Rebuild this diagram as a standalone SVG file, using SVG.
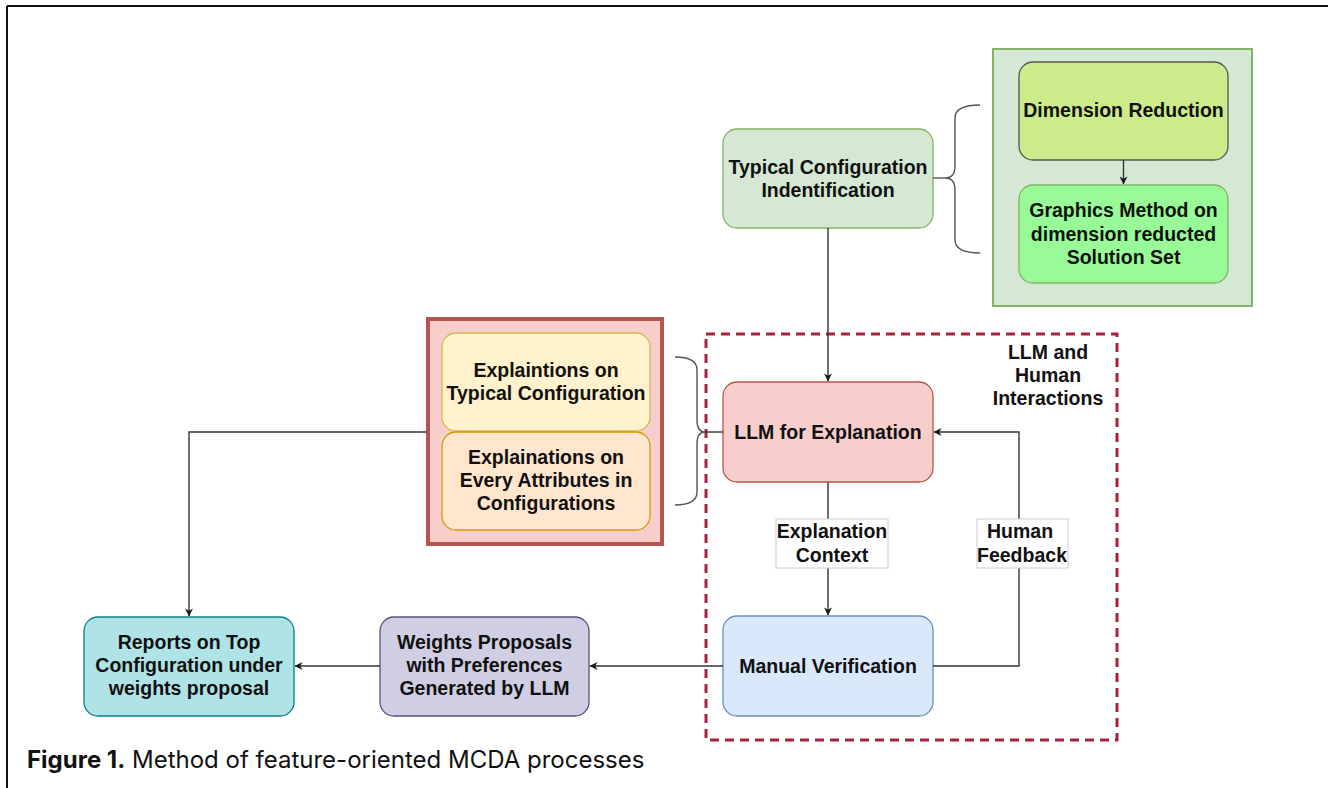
<svg xmlns="http://www.w3.org/2000/svg" width="1328" height="788" viewBox="0 0 1328 788">
<defs>
<marker id="arr" viewBox="0 0 10 10" refX="9.5" refY="5" markerWidth="8" markerHeight="8" markerUnits="userSpaceOnUse" orient="auto">
<path d="M0,0 L10,5 L0,10 L3,5 Z" fill="#1a1a1a"/>
</marker>
</defs>
<style>
.t{font-family:"Liberation Sans",Arial,sans-serif;font-weight:bold;font-size:19.5px;fill:#111;text-anchor:middle;dominant-baseline:central}
.c{fill:none;stroke:#333;stroke-width:1.4}
.br{fill:none;stroke:#555;stroke-width:1.4}
.lbl{fill:#fff;stroke:#ccc;stroke-width:1}
</style>
<rect x="0" y="0" width="1328" height="788" fill="#fff"/>
<g id="frame">
<line x1="7" y1="6" x2="1328" y2="6" stroke="#111" stroke-width="2"/>
<line x1="7" y1="6" x2="7" y2="788" stroke="#111" stroke-width="2"/>
</g>
<g id="green-container">
<rect x="993" y="49" width="259" height="257" fill="#d5e8d4" stroke="#82b366" stroke-width="2"/>
</g>
<g id="dim-reduction">
<rect x="1019" y="62" width="209" height="98" rx="14" fill="#cdeb8b" stroke="#555" stroke-width="1.3"/>
<text class="t" x="1123.5" y="110">Dimension Reduction</text>
</g>
<g id="graphics-method">
<rect x="1019" y="185" width="209" height="98" rx="14" fill="#99fb97" stroke="#82b366" stroke-width="1.3"/>
<text class="t" x="1123.5" y="210">Graphics Method on</text>
<text class="t" x="1123.5" y="233.5">dimension reducted</text>
<text class="t" x="1123.5" y="257">Solution Set</text>
</g>
<g id="typical-config">
<rect x="723" y="129" width="210" height="99" rx="14" fill="#d5e8d4" stroke="#82b366" stroke-width="1.3"/>
<text class="t" x="828" y="167">Typical Configuration</text>
<text class="t" x="828" y="190">Indentification</text>
</g>
<g id="explanation-container">
<rect x="428" y="319" width="234" height="225" fill="#f8cecc" stroke="#b85450" stroke-width="4"/>
</g>
<g id="expl-typical">
<rect x="442" y="333" width="208" height="98" rx="14" fill="#fff2cc" stroke="#d6b656" stroke-width="1.3"/>
<text class="t" x="546" y="370">Explaintions on</text>
<text class="t" x="546" y="393">Typical Configuration</text>
</g>
<g id="expl-attributes">
<rect x="442" y="432" width="208" height="98" rx="14" fill="#ffe6cc" stroke="#d79b00" stroke-width="1.3"/>
<text class="t" x="546" y="457">Explainations on</text>
<text class="t" x="546" y="480">Every Attributes in</text>
<text class="t" x="546" y="503">Configurations</text>
</g>
<g id="llm-human-container">
<rect x="706" y="334" width="411" height="406" fill="none" stroke="#a8223a" stroke-width="3" stroke-dasharray="9 6"/>
<text class="t" x="1048" y="352">LLM and</text>
<text class="t" x="1048" y="375">Human</text>
<text class="t" x="1048" y="398">Interactions</text>
</g>
<g id="llm-explanation">
<rect x="723" y="382" width="210" height="100" rx="14" fill="#f8cecc" stroke="#b85450" stroke-width="1.3"/>
<text class="t" x="828" y="432">LLM for Explanation</text>
</g>
<g id="manual-verification">
<rect x="723" y="616" width="210" height="100" rx="14" fill="#dae8fc" stroke="#6c8ebf" stroke-width="1.3"/>
<text class="t" x="828" y="666">Manual Verification</text>
</g>
<g id="weights-proposals">
<rect x="380" y="617" width="209" height="99" rx="14" fill="#d0cee2" stroke="#56517e" stroke-width="1.3"/>
<text class="t" x="484.5" y="642">Weights Proposals</text>
<text class="t" x="484.5" y="665">with Preferences</text>
<text class="t" x="484.5" y="688">Generated by LLM</text>
</g>
<g id="reports">
<rect x="84" y="617" width="210" height="99" rx="14" fill="#b0e3e6" stroke="#0e8088" stroke-width="1.3"/>
<text class="t" x="189" y="642">Reports on Top</text>
<text class="t" x="189" y="665">Configuration under</text>
<text class="t" x="189" y="688">weights proposal</text>
</g>
<g id="connectors">
<line class="c" x1="1123.5" y1="160" x2="1123.5" y2="184" marker-end="url(#arr)"/>
<path class="br" d="M980,105 Q955,105 955,118 L955,166 Q955,178 945,178 Q955,178 955,190 L955,240 Q955,253 980,253"/>
<line class="br" x1="933" y1="178" x2="945" y2="178"/>
<line class="c" x1="828" y1="228" x2="828" y2="381" marker-end="url(#arr)"/>
<path class="br" d="M675,357 Q697,357 697,370 L697,420 Q697,432 705,432 Q697,432 697,444 L697,492 Q697,505 675,505"/>
<line class="c" x1="705" y1="432" x2="723" y2="432"/>
<line class="c" x1="828" y1="482" x2="828" y2="615" marker-end="url(#arr)"/>
<path class="c" d="M933,666 L1019,666 L1019,432 L934,432" marker-end="url(#arr)"/>
<line class="c" x1="723" y1="666" x2="590" y2="666" marker-end="url(#arr)"/>
<line class="c" x1="380" y1="666" x2="295" y2="666" marker-end="url(#arr)"/>
<path class="c" d="M427,432 L189,432 L189,616" marker-end="url(#arr)"/>
<rect class="lbl" x="776" y="519" width="112" height="49"/>
<text class="t" x="832" y="531">Explanation</text>
<text class="t" x="832" y="555">Context</text>
<rect class="lbl" x="977" y="519" width="91" height="49"/>
<text class="t" x="1020" y="531">Human</text>
<text class="t" x="1022" y="555">Feedback</text>
</g>
<g id="caption">
<text x="27" y="768" font-family="Inter,'Liberation Sans',sans-serif" font-size="24" fill="#111"><tspan font-weight="bold">Figure 1.</tspan> Method of feature-oriented MCDA processes</text>
</g>
</svg>
